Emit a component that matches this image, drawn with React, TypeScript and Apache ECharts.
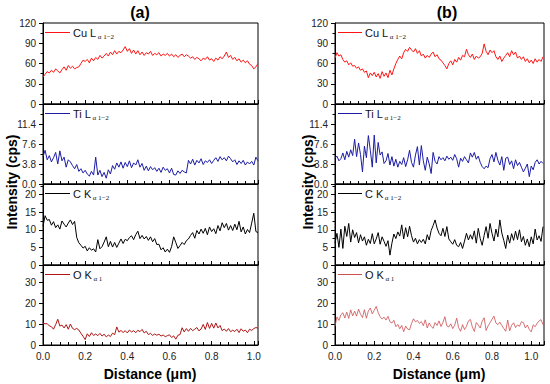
import React, { useEffect, useRef } from "react";
import * as echarts from "echarts";

const FONT = 'Arial, "Liberation Sans", Helvetica, sans-serif';
const SERIF = '"Liberation Serif", "Times New Roman", serif';

const xStep = 0.01;

const cuA = [
  40, 44, 48, 46, 50, 47, 52, 49, 46, 51,
  55, 50, 57, 53, 56, 52, 54, 55, 60, 65,
  63, 66, 61, 68, 64, 69, 66, 72, 68, 71,
  75, 71, 77, 73, 79, 74, 78, 76, 80, 85,
  78, 82, 75, 80, 74, 79, 73, 77, 72, 76,
  74, 78, 72, 75, 73, 76, 71, 74, 72, 75,
  71, 74, 70, 73, 69, 72, 74, 70, 73, 71,
  68, 70, 66, 69, 67, 64, 68, 66, 70, 65,
  67, 63, 68, 65, 70, 67, 71, 77, 69, 72,
  66, 69, 64, 67, 62, 65, 61, 64, 59, 57,
  52, 55, 60,
];
const tiA = [
  5.2, 6.4, 4.6, 5.4, 4.2, 5.0, 6.0, 3.8, 6.3, 4.4,
  5.1, 3.2, 4.6, 4.2, 3.5, 2.9, 3.7, 2.4, 2.9, 2.1,
  2.6, 1.9, 1.5, 2.4, 1.7, 5.1, 1.7, 2.6, 1.4, 2.2,
  1.1, 2.7, 1.9, 3.5, 2.8, 4.0, 3.2, 4.2, 3.0, 4.1,
  3.3, 4.4, 3.1, 4.0, 3.6, 4.6, 3.2, 3.9, 2.6, 3.4,
  2.5, 3.3, 2.7, 3.1, 2.4, 3.0, 2.2, 3.2, 2.6, 2.9,
  2.1, 3.0, 1.8, 1.7, 2.5, 2.0, 2.6, 2.3, 2.1, 4.5,
  3.8, 4.7, 3.6, 4.5, 4.0, 4.8, 3.7, 4.4, 4.1, 4.6,
  3.9, 4.5, 5.0, 4.3, 5.2, 4.6, 5.0, 4.4, 5.3, 4.8,
  4.2, 4.6, 3.7, 4.4, 3.9, 4.5, 3.6, 4.2, 3.8, 4.3,
  3.6, 5.1, 4.4,
];
const cA = [
  11.0, 14.0, 12.7, 12.9, 11.3, 12.3, 10.6, 11.4, 10.2, 12.5,
  11.6, 10.8, 11.9, 12.8, 11.5, 12.4, 7.8, 6.3, 5.6, 4.8,
  5.3, 4.0, 4.9, 4.2, 4.6, 3.7, 7.2, 4.6, 5.2, 6.5,
  8.0, 5.2, 6.7, 5.1, 6.4, 5.0, 6.2, 7.4, 6.1, 7.3,
  6.9, 7.8, 8.3, 7.2, 8.6, 9.6, 7.5, 8.4, 7.4, 8.1,
  7.0, 8.0, 6.6, 7.5, 5.8, 5.9, 4.3, 4.9, 3.7, 4.5,
  3.6, 5.2, 8.0, 6.4, 4.7, 5.5, 6.4, 5.8, 6.9, 7.4,
  8.4, 9.2, 7.6, 9.8, 8.8, 10.2, 9.0, 10.4, 8.6, 10.8,
  9.5, 10.3, 8.9, 11.2, 9.7, 12.0, 10.6, 11.8, 9.9, 11.2,
  9.8, 11.6, 10.0, 12.4, 9.4, 10.8, 8.8, 10.1, 9.2, 11.9,
  14.7, 9.5, 9.2,
];
const oA = [
  10.5, 10.2, 10.3, 9.2, 8.8, 7.6, 9.8, 12.4, 9.1, 9.6,
  8.2, 9.8, 7.6, 10.1, 8.0, 7.4, 8.0, 7.2, 5.6, 4.2,
  2.6, 5.4, 4.1, 5.9, 4.6, 5.3, 4.5, 5.6, 4.3, 5.2,
  3.9, 4.8, 4.1, 5.7, 5.0, 8.7, 6.2, 7.0, 6.0, 6.9,
  5.8, 7.2, 6.3, 6.9, 5.9, 7.1, 6.4, 7.5, 5.8, 6.6,
  5.0, 5.6, 4.6, 5.3, 4.7, 5.2, 4.3, 4.8, 4.0, 4.5,
  4.9, 3.6, 4.4, 2.8, 4.7, 5.0, 8.3, 6.3, 7.9, 6.6,
  8.0, 6.9, 7.6, 8.4, 6.8, 7.7, 9.9, 7.5, 10.8, 8.0,
  10.4, 8.1, 10.6, 8.2, 9.4, 6.9, 7.7, 6.6, 7.9, 6.4,
  7.1, 6.5, 7.6, 6.0, 7.8, 6.6, 7.2, 5.9, 7.6, 7.0,
  7.9, 8.4, 8.1,
];

const cuB = [
  68, 76, 71, 73, 66, 62, 64, 58, 61, 56,
  57, 53, 55, 50, 52, 47, 49, 39, 46, 42,
  47, 40, 45, 38, 48, 41, 46, 39, 50, 43,
  52, 60, 66, 71, 67, 76, 81, 78, 84, 80,
  77, 82, 75, 79, 71, 74, 68, 72, 69, 74,
  77, 70, 73, 67, 65, 61, 57, 52, 60, 64,
  58, 66, 62, 69, 65, 72, 70, 81, 73, 69,
  74, 66, 71, 68, 70, 75, 89, 78, 73, 80,
  76, 79, 70, 66, 71, 63, 68, 72, 76, 70,
  79, 73, 77, 68, 71, 66, 70, 63, 67, 61,
  65, 60, 67, 62, 66, 63, 70,
];
const tiB = [
  4.9, 5.3, 4.4, 4.8, 5.9, 4.6, 6.2, 5.1, 6.5, 5.4,
  8.5, 5.2, 7.8, 5.6, 2.3, 7.2, 5.0, 9.2, 6.4, 3.2,
  9.3, 4.0, 7.9, 5.5, 6.1, 3.9, 4.4, 5.8, 3.6, 5.2,
  3.4, 4.7, 3.2, 4.3, 3.7, 5.0, 3.3, 4.6, 6.4, 4.1,
  3.2, 5.5, 7.1, 3.6, 7.3, 4.4, 2.6, 5.1, 3.8, 2.0,
  6.0, 4.3, 3.8, 5.2, 4.6, 5.0, 4.4, 5.3, 4.7, 5.1,
  4.5, 5.6, 4.8, 3.2, 4.9, 4.3, 5.2, 4.6, 4.0, 5.9,
  5.1, 6.0, 4.7, 5.3, 4.1, 3.3, 2.9, 3.4, 3.1, 4.8,
  5.6, 4.2, 6.0, 4.5, 3.6, 5.2, 2.6, 4.9, 5.1, 3.7,
  4.4, 2.9, 4.6, 3.5, 4.1, 3.2, 2.3, 3.0, 3.8, 1.4,
  3.4, 2.7, 4.1, 4.6, 3.8, 4.3, 3.9,
];
const cB = [
  6.2, 9.0, 5.0, 10.2, 4.7, 11.0, 8.1, 11.8, 6.5, 10.0,
  7.8, 9.2, 6.3, 8.6, 6.8, 8.0, 5.6, 7.3, 6.1, 8.9,
  6.0, 7.4, 9.2, 5.9, 8.0, 6.7, 5.3, 6.9, 2.8, 6.2,
  8.8, 7.5, 9.4, 8.2, 11.4, 7.4, 10.6, 8.0, 11.0, 8.3,
  6.5, 7.6, 6.0, 7.2, 6.4, 7.3, 6.0, 8.6, 7.1, 9.8,
  11.2, 12.8, 10.5, 9.0, 8.3, 10.4, 8.1, 10.9, 7.4, 6.6,
  5.9, 7.2, 5.6, 5.2, 6.4, 4.7, 6.8, 9.0, 7.1, 8.6,
  7.3, 9.7, 6.2, 10.4, 7.5, 5.6, 8.4, 10.9, 7.6, 11.8,
  9.0, 6.8, 10.2, 8.0, 12.8, 9.1, 7.0, 4.7, 8.5, 6.2,
  8.9, 7.0, 9.6, 7.2, 10.0, 6.6, 8.1, 5.6, 7.4, 5.2,
  8.0, 6.0, 10.2, 7.1, 8.3, 6.7, 10.9,
];
const oB = [
  9.0, 13.5, 11.8, 14.6, 15.5, 13.0, 15.8, 12.8, 16.9, 14.0,
  16.3, 13.9, 17.3, 14.8, 13.2, 17.0, 12.9, 16.4, 17.8, 15.0,
  16.7, 18.6, 15.6, 13.6, 12.5, 13.4, 12.0, 13.8, 11.2, 10.6,
  11.9, 8.8, 9.9, 7.8, 9.4, 6.4, 9.1, 7.7, 7.3, 10.4,
  12.6, 11.2, 11.8, 10.4, 11.3, 9.3, 12.1, 8.2, 10.6, 9.0,
  8.0, 10.8, 9.4, 11.6, 8.9, 10.9, 13.6, 9.2, 8.7, 10.2,
  7.9, 9.5, 12.9, 8.4, 6.6, 9.8, 7.4, 9.0, 11.6, 12.3,
  8.6, 6.5, 10.8, 9.6, 8.2, 11.4, 13.1, 7.0, 9.2, 10.7,
  12.4, 13.9, 10.6, 9.8, 11.0, 9.4, 8.0, 6.6, 12.0, 6.8,
  9.5, 10.7, 8.4, 9.7, 9.0, 11.2, 10.8, 8.2, 9.6, 7.5,
  6.3, 9.7, 8.8, 10.5, 11.6, 12.2, 9.8,
];

const panelTitles = ["(a)", "(b)"];
const legendMain = ["Cu L", "Ti L", "C K", "O K"];
const legendSub = ["\u03b1 1\u22122", "\u03b1 1\u22122", "\u03b1 1\u22122", "\u03b1 1"];
const yMax = [120, 15.2, 23, 38.5];
const yInterval = [30, 3.8, 5, 10];
const yDecimals = [0, 1, 0, 0];
const xMaxCol = [1.02, 1.065];
const xInterval = 0.2;

export default function App() {
  const ref = useRef<HTMLDivElement>(null);

  useEffect(() => {
    if (!ref.current) return;
    const chart = echarts.init(ref.current, null, { renderer: "svg" });

    const colData = [
      [cuA, tiA, cA, oA],
      [cuB, tiB, cB, oB],
    ];
    const colColors = [
      ["#ff1414", "#1c1ca6", "#000000", "#b01515"],
      ["#ff1414", "#1c1ca6", "#000000", "#cc4e50"],
    ];
    const colWidths = [
      [1, 1, 1, 1],
      [1, 1, 1, 0.8],
    ];
    const colLeft = [43, 335];
    const colWidth = [215, 209];
    const rowTop = [23, 104, 184, 265];
    const rowHeight = [81, 80, 81, 80];
    const legLine = [
      [45, 70, 73],
      [338, 362, 365],
    ];
    const titleX = [140, 447];
    const yTitleX = [12, 308];
    const xTitleX = [150, 439];

    const canvas = document.createElement("canvas");
    const ctx = canvas.getContext("2d");
    const measure = (t: string) => {
      if (!ctx) return t.length * 6;
      ctx.font = `11px ${FONT}`;
      return ctx.measureText(t).width;
    };

    const grids: any[] = [];
    const xAxes: any[] = [];
    const yAxes: any[] = [];
    const series: any[] = [];
    const graphics: any[] = [];

    for (let c = 0; c < 2; c++) {
      for (let r = 0; r < 4; r++) {
        const k = c * 4 + r;
        grids.push({
          left: colLeft[c],
          top: rowTop[r],
          width: colWidth[c],
          height: rowHeight[r],
          show: true,
          borderColor: "#000",
          borderWidth: 1,
          backgroundColor: "transparent",
        });
        const isBottom = r === 3;
        xAxes.push({
          type: "value",
          gridIndex: k,
          min: 0,
          max: xMaxCol[c],
          interval: xInterval,
          axisLine: { show: true, lineStyle: { color: "#000", width: 1 } },
          axisTick: { show: true, inside: true, length: 4, lineStyle: { color: "#000" } },
          minorTick: { show: true, splitNumber: 5, length: 3, lineStyle: { color: "#000" } },
          splitLine: { show: false },
          axisLabel: {
            show: isBottom,
            color: "#222",
            fontSize: 10,
            fontFamily: FONT,
            margin: 6,
            formatter: (v: number) => {
              const q = v / xInterval;
              return Math.abs(q - Math.round(q)) < 1e-6 ? v.toFixed(1) : "";
            },
          },
        });
        const mx = yMax[r];
        const iv = yInterval[r];
        const dec = yDecimals[r];
        yAxes.push({
          type: "value",
          gridIndex: k,
          min: 0,
          max: mx,
          interval: iv,
          axisLine: { show: true, lineStyle: { color: "#000", width: 1 } },
          axisTick: { show: true, inside: false, length: 4, lineStyle: { color: "#000" } },
          minorTick: { show: true, splitNumber: 2, length: 2.5, lineStyle: { color: "#000" } },
          splitLine: { show: false },
          axisLabel: {
            color: "#222",
            fontSize: 10,
            fontFamily: FONT,
            margin: 7,
            formatter: (v: number) => {
              const q = v / iv;
              if (Math.abs(q - Math.round(q)) > 1e-6) return "";
              if (r > 0 && Math.abs(v - mx) < 1e-6) return "";
              return v.toFixed(dec);
            },
          },
        });
        const vals = colData[c][r];
        series.push({
          type: "line",
          xAxisIndex: k,
          yAxisIndex: k,
          showSymbol: false,
          symbol: "none",
          data: vals.map((v, i) => [Number((i * xStep).toFixed(2)), v]),
          lineStyle: { color: colColors[c][r], width: colWidths[c][r] },
          itemStyle: { color: colColors[c][r] },
        });

        const ly = rowTop[r] + 9.5;
        graphics.push({
          type: "line",
          shape: { x1: legLine[c][0], y1: ly, x2: legLine[c][1], y2: ly },
          style: { stroke: colColors[c][r], lineWidth: 1 },
        });
        graphics.push({
          type: "text",
          x: legLine[c][2],
          y: ly,
          style: {
            text: legendMain[r],
            fontSize: 11,
            fontFamily: FONT,
            fill: "#111",
            align: "left",
            verticalAlign: "middle",
          },
        });
        graphics.push({
          type: "text",
          x: legLine[c][2] + measure(legendMain[r]) + 1.5,
          y: ly + 4.5,
          style: {
            text: legendSub[r],
            fontSize: 7,
            fontFamily: SERIF,
            fill: "#111",
            align: "left",
            verticalAlign: "middle",
          },
        });
      }

      graphics.push({
        type: "text",
        x: titleX[c],
        y: 12,
        style: {
          text: panelTitles[c],
          fontSize: 16,
          fontWeight: "bold",
          fontFamily: FONT,
          fill: "#000",
          align: "center",
          verticalAlign: "middle",
        },
      });
      graphics.push({
        type: "text",
        x: yTitleX[c],
        y: 182,
        rotation: Math.PI / 2,
        style: {
          text: "Intensity (cps)",
          fontSize: 14,
          fontWeight: "bold",
          fontFamily: FONT,
          fill: "#000",
          align: "center",
          verticalAlign: "middle",
        },
      });
      graphics.push({
        type: "text",
        x: xTitleX[c],
        y: 374,
        style: {
          text: "Distance (\u03bcm)",
          fontSize: 14,
          fontWeight: "bold",
          fontFamily: FONT,
          fill: "#000",
          align: "center",
          verticalAlign: "middle",
        },
      });
    }

    chart.setOption({
      animation: false,
      backgroundColor: "#ffffff",
      grid: grids,
      xAxis: xAxes,
      yAxis: yAxes,
      series,
      graphic: graphics,
    });

    return () => chart.dispose();
  }, []);

  return (
    <div
      ref={ref}
      style={{ position: "absolute", left: 0, top: 0, width: 550, height: 384 }}
    />
  );
}
